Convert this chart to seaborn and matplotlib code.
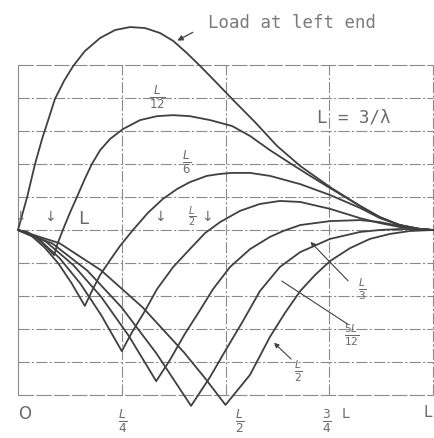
import matplotlib
matplotlib.use("Agg")
import matplotlib.pyplot as plt
import seaborn as sns

sns.set_theme(style="white")
plt.rcParams["font.family"] = ["DejaVu Sans"]
plt.rcParams["mathtext.fontset"] = "dejavusans"

# Bending-moment diagrams for a free beam on elastic foundation, L = 3/lambda.
# x is the section position (fraction of L), y is the moment in grid units.

# load at the left end
x_end = [0, 0.022, 0.041, 0.058, 0.065, 0.089, 0.111, 0.133, 0.161, 0.198, 0.234, 0.270,
         0.306, 0.342, 0.374, 0.407, 0.439, 0.477, 0.516, 0.571, 0.624, 0.680, 0.752,
         0.824, 0.872, 0.920, 0.969, 1.0]
y_end = [0, 1.00, 2.00, 2.76, 3.03, 3.97, 4.52, 4.97, 5.42, 5.82, 6.06, 6.15,
         6.12, 5.97, 5.73, 5.36, 4.97, 4.48, 3.97, 3.27, 2.55, 1.94, 1.30,
         0.73, 0.39, 0.15, 0.03, 0]

# load at L/12
x_l12 = [0, 0.022, 0.039, 0.053, 0.070, 0.087, 0.096, 0.108, 0.125, 0.142, 0.161, 0.178,
         0.198, 0.222, 0.253, 0.294, 0.335, 0.374, 0.414, 0.463, 0.516, 0.559, 0.607,
         0.655, 0.704, 0.752, 0.824, 0.872, 0.920, 0.969, 1.0]
y_l12 = [0, -0.06, -0.18, -0.33, -0.53, -0.76, -0.39, 0, 0.52, 1.00, 1.55, 2.00,
         2.42, 2.76, 3.06, 3.33, 3.45, 3.48, 3.45, 3.33, 3.15, 2.85, 2.42,
         2.03, 1.64, 1.27, 0.73, 0.39, 0.15, 0.03, 0]

# load at L/6
x_l6 = [0, 0.032, 0.064, 0.097, 0.129, 0.161, 0.178, 0.198, 0.222, 0.246, 0.277, 0.313,
        0.349, 0.383, 0.414, 0.455, 0.487, 0.516, 0.559, 0.607, 0.680, 0.752, 0.824,
        0.872, 0.920, 0.969, 1.0]
y_l6 = [0, -0.17, -0.53, -1.01, -1.61, -2.30, -1.85, -1.36, -0.91, -0.48, 0, 0.52,
        0.94, 1.24, 1.45, 1.64, 1.70, 1.73, 1.73, 1.64, 1.39, 1.06, 0.67,
        0.36, 0.15, 0.03, 0]

# load at L/4
x_l4 = [0, 0.05, 0.10, 0.15, 0.20, 0.25, 0.275, 0.306, 0.335, 0.374, 0.414, 0.451,
        0.487, 0.535, 0.583, 0.631, 0.680, 0.752, 0.824, 0.872, 0.920, 0.969, 1.0]
y_l4 = [0, -0.28, -0.85, -1.62, -2.57, -3.67, -3.09, -2.45, -1.79, -1.12, -0.58, -0.09,
        0.24, 0.58, 0.79, 0.88, 0.85, 0.64, 0.36, 0.21, 0.09, 0.02, 0]

# load at L/3
x_l3 = [0, 0.067, 0.133, 0.20, 0.267, 0.333, 0.366, 0.402, 0.439, 0.470, 0.511, 0.559,
        0.607, 0.639, 0.680, 0.752, 0.824, 0.872, 0.920, 0.969, 1.0]
y_l3 = [0, -0.35, -1.06, -2.02, -3.21, -4.58, -3.94, -3.15, -2.42, -1.79, -1.12, -0.58,
        -0.21, -0.03, 0.15, 0.27, 0.30, 0.24, 0.12, 0.03, 0]

# load at 5L/12
x_5l12 = [0, 0.083, 0.167, 0.25, 0.333, 0.417, 0.463, 0.499, 0.542, 0.583, 0.631, 0.680,
          0.752, 0.824, 0.872, 0.920, 0.969, 1.0]
y_5l12 = [0, -0.41, -1.23, -2.35, -3.73, -5.33, -4.45, -3.67, -2.76, -1.85, -1.12, -0.67,
          -0.27, -0.06, 0, 0.03, 0.02, 0]

# load at L/2
x_l2 = [0, 0.10, 0.20, 0.30, 0.40, 0.45, 0.50, 0.559, 0.607, 0.643, 0.680, 0.716,
        0.752, 0.800, 0.848, 0.896, 0.945, 1.0]
y_l2 = [0, -0.40, -1.22, -2.34, -3.71, -4.48, -5.30, -4.39, -3.24, -2.52, -1.85, -1.36,
        -0.94, -0.55, -0.27, -0.12, -0.03, 0]

curves = [(x_end, y_end), (x_l12, y_l12), (x_l6, y_l6), (x_l4, y_l4),
          (x_l3, y_l3), (x_5l12, y_5l12), (x_l2, y_l2)]

grid_x = [0, 0.25, 0.5, 0.75, 1.0]
grid_y = [-5, -4, -3, -2, -1, 0, 1, 2, 3, 4, 5]

ink = "#404040"
grid_ink = "#8a8a8a"
txt = "#6a6a6a"

fig = plt.figure(figsize=(4.34, 4.39), dpi=100)
ax = fig.add_axes([0, 0, 1, 1])
ax.set_xlim(-0.0434, 1.0024)
ax.set_ylim(-6.303, 7.0)
ax.axis("off")

# dash-dot grid with a solid left edge
for gy in grid_y:
    ls = (0, (10, 2, 2, 2)) if gy not in (-5, 5) else (0, (14, 2))
    ax.plot([0, 1.0], [gy, gy], color=grid_ink, lw=0.8, ls=ls, zorder=1)
for gx in grid_x:
    ls = "-" if gx == 0 else (0, (10, 2, 2, 2))
    ax.plot([gx, gx], [-5, 5], color=grid_ink, lw=0.8, ls=ls, zorder=1)

for xs, ys in curves:
    sns.lineplot(x=xs, y=ys, sort=False, estimator=None, color=ink, lw=1.3,
                 ax=ax, zorder=3)

mono = ["DejaVu Sans Mono"]
ax.text(0.458, 6.30, "Load at left end", fontsize=12.5, color="#7a7a7a",
        ha="left", va="center", family=mono)
ax.annotate("", xy=(0.378, 5.70), xytext=(0.427, 6.03),
            arrowprops=dict(arrowstyle="-|>", color=ink, lw=0.9, mutation_scale=8))
ax.text(0.72, 3.45, "L = 3/λ", fontsize=12.5, color=txt, ha="left", va="center",
        family=mono)

ax.text(0.335, 4.06, r"$\frac{L}{12}$", fontsize=12, color=txt, ha="center", va="center")
ax.text(0.407, 2.09, r"$\frac{L}{6}$", fontsize=12, color=txt, ha="center", va="center")

# load-position marks along the axis
for mx, lab in [(0.004, "↓"), (0.077, "↓"), (0.342, "↓"), (0.455, "↓")]:
    ax.text(mx, 0.42, lab, fontsize=10, color=txt, ha="center", va="center")
ax.text(0.157, 0.35, "L", fontsize=13, color=txt, ha="center", va="center",
        family=mono)
ax.text(0.419, 0.42, r"$\frac{L}{2}$", fontsize=10, color=txt, ha="center", va="center")

ax.text(0.829, -1.75, r"$\frac{L}{3}$", fontsize=11, color=txt, ha="center", va="center")
ax.text(0.805, -3.15, r"$\frac{5L}{12}$", fontsize=11, color=txt, ha="center", va="center")
ax.text(0.675, -4.25, r"$\frac{L}{2}$", fontsize=11, color=txt, ha="center", va="center")
ax.annotate("", xy=(0.63, -1.5), xytext=(0.80, -2.9),
            arrowprops=dict(arrowstyle="-", color=ink, lw=0.8))
ax.annotate("", xy=(0.612, -3.36), xytext=(0.663, -3.97),
            arrowprops=dict(arrowstyle="-|>", color=ink, lw=0.8, mutation_scale=7))
ax.annotate("", xy=(0.70, -0.3), xytext=(0.80, -1.6),
            arrowprops=dict(arrowstyle="-|>", color=ink, lw=0.8, mutation_scale=7))

# axis marks
ax.text(0.017, -5.55, "O", fontsize=12, color=txt, ha="center", va="center")
ax.text(0.253, -5.75, r"$\frac{L}{4}$", fontsize=12.5, color=txt, ha="center", va="center")
ax.text(0.535, -5.75, r"$\frac{L}{2}$", fontsize=12.5, color=txt, ha="center", va="center")
ax.text(0.745, -5.75, r"$\frac{3}{4}$", fontsize=12.5, color=txt, ha="center", va="center")
ax.text(0.788, -5.55, "L", fontsize=10, color=txt, ha="center", va="center")
ax.text(0.988, -5.5, "L", fontsize=11, color=txt, ha="center", va="center")

fig.savefig("out.png", dpi=100, facecolor="white")
